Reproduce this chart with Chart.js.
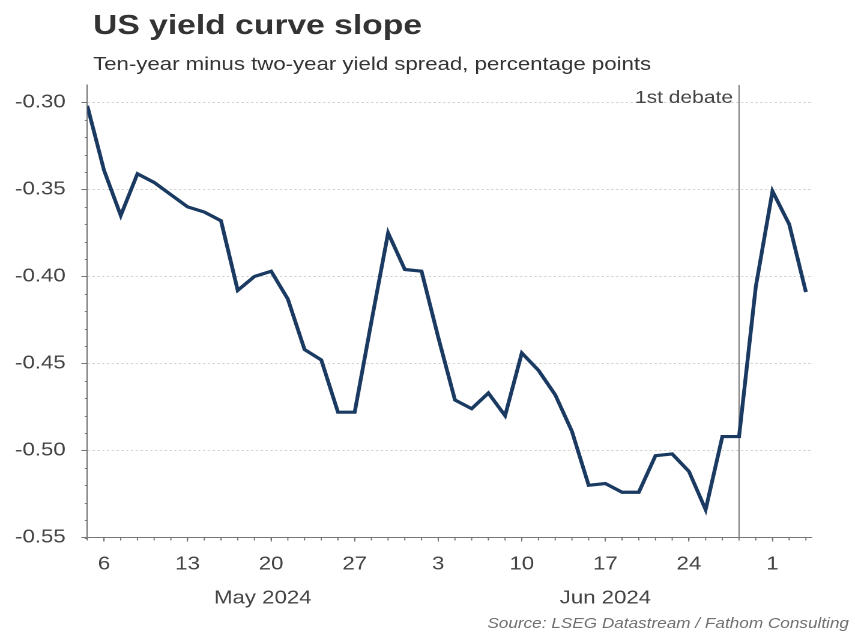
<!DOCTYPE html>
<html>
<head>
<meta charset="utf-8">
<script src="https://cdn.jsdelivr.net/npm/chart.js@4.4.1/dist/chart.umd.min.js"></script>
<style>
html, body { margin: 0; padding: 0; background: #ffffff; overflow: hidden; }
#wrap { position: absolute; left: 0; top: 0; width: 712px; height: 633px; transform: scaleX(1.2008); transform-origin: 0 0; }
</style>
</head>
<body>
<div id="wrap"><canvas id="c"></canvas></div>
<script>
// ---- Data (trading days) ----
const dates = [
  '2024-05-03',
  '2024-05-06','2024-05-07','2024-05-08','2024-05-09','2024-05-10',
  '2024-05-13','2024-05-14','2024-05-15','2024-05-16','2024-05-17',
  '2024-05-20','2024-05-21','2024-05-22','2024-05-23','2024-05-24',
  '2024-05-27','2024-05-28','2024-05-29','2024-05-30','2024-05-31',
  '2024-06-03','2024-06-04','2024-06-05','2024-06-06','2024-06-07',
  '2024-06-10','2024-06-11','2024-06-12','2024-06-13','2024-06-14',
  '2024-06-17','2024-06-18','2024-06-19','2024-06-20','2024-06-21',
  '2024-06-24','2024-06-25','2024-06-26','2024-06-27','2024-06-28',
  '2024-07-01','2024-07-02','2024-07-03'
];
const spread = [
  -0.302,
  -0.339, -0.365, -0.341, -0.346, -0.353,
  -0.360, -0.363, -0.368, -0.408, -0.400,
  -0.397, -0.413, -0.442, -0.448, -0.478,
  -0.478, -0.426, -0.375, -0.396, -0.397,
  -0.435, -0.471, -0.476, -0.467, -0.480,
  -0.444, -0.454, -0.468, -0.489, -0.520,
  -0.519, -0.524, -0.524, -0.503, -0.502,
  -0.512, -0.534, -0.492, -0.492, -0.406,
  -0.351, -0.370, -0.409
];
const yTickValues = [-0.55, -0.50, -0.45, -0.40, -0.35, -0.30];
const xTickDates = ['2024-05-06','2024-05-13','2024-05-20','2024-05-27','2024-06-03','2024-06-10','2024-06-17','2024-06-24','2024-07-01'];
const monthKeys = ['2024-05', '2024-06'];
const monthLabels = ['May 2024', 'Jun 2024'];
const eventDate = '2024-06-27';
const eventLabel = '1st debate';
const titleText = 'US yield curve slope';
const subtitleText = 'Ten-year minus two-year yield spread, percentage points';
const sourceText = 'Source: LSEG Datastream / Fathom Consulting';

// ---- helpers ----
const FONT = '"Liberation Sans", Arial, Helvetica, sans-serif';
const points = spread.map((v, i) => ({ x: i, y: v }));
const monthCenters = monthKeys.map(k => {
  const first = dates.findIndex(d => d.startsWith(k));
  let last = -1;
  dates.forEach((d, i) => { if (d.startsWith(k)) last = i; });
  return (first + last + 1) / 2;
});
const X_MAX = dates.length - 1 + 0.35;

const decor = {
  id: 'decor',
  beforeDatasetsDraw(chart) {
    const { ctx, chartArea, scales } = chart;
    const px = scales.x.getPixelForValue(dates.indexOf(eventDate));
    ctx.save();
    ctx.strokeStyle = '#7a7a7a';
    ctx.lineWidth = 1;
    ctx.beginPath();
    ctx.moveTo(px, chartArea.top);
    ctx.lineTo(px, chartArea.bottom);
    ctx.stroke();
    ctx.font = '17.5px ' + FONT;
    ctx.fillStyle = '#444444';
    ctx.textAlign = 'right';
    ctx.textBaseline = 'alphabetic';
    ctx.fillText(eventLabel, px - 5, 103);
    ctx.restore();
  },
  afterDraw(chart) {
    const { ctx, chartArea, scales } = chart;
    ctx.save();
    // minor ticks
    ctx.strokeStyle = '#777777';
    ctx.lineWidth = 1;
    ctx.beginPath();
    for (let k = -55; k <= -30; k++) {
      const py = Math.round(scales.y.getPixelForValue(k / 100)) + 0.5;
      ctx.moveTo(chartArea.left, py);
      ctx.lineTo(chartArea.left - 2.2, py);
    }
    for (let i = 0; i < dates.length; i++) {
      const px = scales.x.getPixelForValue(i);
      ctx.moveTo(px, chartArea.bottom);
      ctx.lineTo(px, chartArea.bottom + 3);
    }
    ctx.stroke();
    // titles
    ctx.textAlign = 'left';
    ctx.textBaseline = 'alphabetic';
    ctx.fillStyle = '#333333';
    ctx.font = 'bold 28px ' + FONT;
    ctx.fillText(titleText, 77.5, 34);
    ctx.font = '18.5px ' + FONT;
    ctx.fillText(subtitleText, 77.5, 70);
    ctx.font = 'italic 14.3px ' + FONT;
    ctx.fillStyle = '#707070';
    ctx.textAlign = 'right';
    ctx.fillText(sourceText, 707, 628);
    ctx.restore();
  }
};

new Chart(document.getElementById('c'), {
  type: 'line',
  data: {
    datasets: [{
      data: points,
      borderColor: '#1a3a62',
      borderWidth: 3.2,
      pointRadius: 0,
      tension: 0,
      fill: false,
      xAxisID: 'x',
      yAxisID: 'y'
    }]
  },
  options: {
    responsive: true,
    maintainAspectRatio: false,
    animation: false,
    devicePixelRatio: 2,
    layout: { padding: { top: 85, right: 36, left: 0, bottom: 25.5 } },
    plugins: { legend: { display: false }, tooltip: { enabled: false }, title: { display: false } },
    scales: {
      x: {
        type: 'linear',
        position: 'bottom',
        weight: 0,
        min: 0,
        max: X_MAX,
        afterBuildTicks: s => { s.ticks = xTickDates.map(d => ({ value: dates.indexOf(d) })); },
        afterFit: s => { s.height = 40; },
        ticks: {
          autoSkip: false,
          maxRotation: 0,
          padding: 12,
          color: '#444444',
          font: { family: FONT, size: 18.5 },
          callback: v => String(parseInt(dates[Math.round(v)].slice(8), 10))
        },
        grid: { display: true, drawOnChartArea: false, drawTicks: true, tickLength: 4, tickColor: '#777777', tickWidth: 1 },
        border: { display: true, color: '#777777', width: 1 }
      },
      month: {
        type: 'linear',
        position: 'bottom',
        weight: 1,
        min: 0,
        max: X_MAX,
        afterBuildTicks: s => { s.ticks = monthCenters.map(c => ({ value: c })); },
        afterFit: s => { s.height = 30; },
        ticks: {
          autoSkip: false,
          maxRotation: 0,
          padding: 10,
          color: '#444444',
          font: { family: FONT, size: 18.5 },
          callback: (v, i) => monthLabels[i]
        },
        grid: { display: false, drawTicks: false },
        border: { display: false }
      },
      y: {
        type: 'linear',
        position: 'left',
        min: -0.55,
        max: -0.29,
        afterBuildTicks: s => { s.ticks = yTickValues.map(v => ({ value: v })); },
        afterFit: s => { s.width = 72.7; },
        ticks: {
          padding: 13,
          color: '#444444',
          font: { family: FONT, size: 18.5 },
          callback: v => Number(v).toFixed(2)
        },
        grid: {
          color: c => (c.tick && c.tick.value <= -0.549) ? 'rgba(0,0,0,0)' : '#d4d4d4',
          lineWidth: 1,
          tickColor: '#777777',
          tickLength: 5,
          drawTicks: true
        },
        border: { display: true, color: '#777777', width: 1, dash: [2, 2] }
      }
    }
  },
  plugins: [decor]
});
</script>
</body>
</html>
